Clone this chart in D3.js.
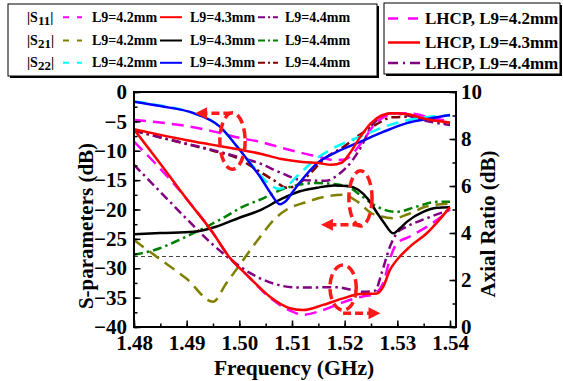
<!DOCTYPE html>
<html><head><meta charset="utf-8">
<script src="https://cdn.jsdelivr.net/npm/d3@7"></script>
<style>
html,body{margin:0;padding:0;background:#fff;}
svg{display:block;}
text{font-family:"Liberation Serif","Times New Roman",serif;font-weight:bold;fill:#000;}
</style></head><body>
<svg id="c" width="563" height="381"></svg>
<script>
// ---------------- DATA ----------------
const xLabel = "Frequency (GHz)";
const yLeftLabel = "S-parameters (dB)";
const yRightLabel = "Axial Ratio (dB)";
const freqTicks = [1.48, 1.49, 1.50, 1.51, 1.52, 1.53, 1.54];
const sTicks = [0, -5, -10, -15, -20, -25, -30, -35, -40];
const arTicks = [0, 2, 4, 6, 8, 10];
const arRefLevel = 3;

// |S11| (dB)
const s11_42 = [[1.48,-4.77],[1.485,-5.2],[1.49,-5.8],[1.495,-6.7],[1.50,-7.8],[1.504,-8.5],[1.508,-9.5],[1.512,-10.4],[1.515,-11.0],[1.518,-11.6],[1.52,-11.5],[1.522,-10.0],[1.524,-7.6],[1.526,-5.2],[1.528,-4.0],[1.53,-3.6],[1.533,-3.7],[1.536,-4.3],[1.54,-5.0]];
const s11_43 = [[1.48,-6.35],[1.485,-7.3],[1.49,-8.2],[1.495,-9.0],[1.50,-9.8],[1.504,-10.5],[1.508,-11.4],[1.512,-11.9],[1.515,-12.1],[1.5175,-12.4],[1.5195,-12.0],[1.521,-10.4],[1.523,-7.6],[1.525,-5.3],[1.527,-4.0],[1.529,-3.6],[1.532,-3.8],[1.535,-4.5],[1.54,-5.2]];
const s11_44 = [[1.48,-6.5],[1.485,-7.7],[1.49,-8.8],[1.495,-9.9],[1.50,-11.1],[1.504,-12.2],[1.508,-13.8],[1.512,-15.0],[1.5165,-15.1],[1.519,-13.9],[1.5215,-11.6],[1.5235,-8.7],[1.525,-5.9],[1.527,-4.2],[1.529,-3.6],[1.532,-4.0],[1.535,-4.8],[1.54,-5.6]];
// |S21| (dB)
const s21_42 = [[1.48,-25.2],[1.485,-28.5],[1.49,-31.8],[1.495,-35.7],[1.4975,-32.6],[1.50,-29.5],[1.502,-27.0],[1.504,-24.6],[1.5065,-21.8],[1.509,-20.0],[1.5125,-18.8],[1.5165,-17.8],[1.5195,-17.5],[1.5225,-18.7],[1.525,-20.6],[1.527,-21.2],[1.5295,-21.5],[1.532,-20.8],[1.5355,-19.5],[1.54,-19.0]];
const s21_43 = [[1.48,-24.2],[1.485,-24.0],[1.4913,-23.8],[1.4957,-22.9],[1.50,-21.4],[1.504,-20.1],[1.508,-18.2],[1.5115,-16.9],[1.5147,-16.3],[1.518,-15.9],[1.5205,-16.0],[1.5225,-16.6],[1.5245,-18.3],[1.5261,-20.5],[1.5275,-22.3],[1.5292,-24.05],[1.5305,-23.2],[1.5318,-22.1],[1.5349,-20.4],[1.5375,-19.7],[1.54,-19.6]];
const s21_44 = [[1.48,-27.7],[1.4849,-26.6],[1.4885,-25.2],[1.4925,-23.5],[1.497,-21.4],[1.5005,-19.6],[1.504,-18.3],[1.5084,-16.5],[1.5147,-15.5],[1.5204,-16.0],[1.5229,-17.5],[1.5261,-19.5],[1.5299,-20.4],[1.5337,-19.5],[1.5375,-18.7],[1.54,-18.7]];
// |S22| (dB)
const s22_42 = [[1.48,-1.6],[1.485,-2.3],[1.4913,-3.6],[1.4963,-5.9],[1.4995,-9.2],[1.502,-12.0],[1.504,-14.2],[1.506,-15.9],[1.5075,-16.5],[1.509,-16.0],[1.511,-14.3],[1.5147,-11.3],[1.5191,-9.0],[1.5229,-7.6],[1.5286,-5.6],[1.5337,-4.5],[1.54,-4.0]];
const s22_43 = [[1.48,-1.65],[1.485,-2.4],[1.4913,-3.6],[1.4963,-5.9],[1.4995,-9.2],[1.502,-12.1],[1.504,-14.5],[1.506,-17.3],[1.5077,-19.1],[1.509,-18.4],[1.5103,-16.8],[1.5125,-14.3],[1.5147,-12.2],[1.5185,-10.2],[1.5229,-8.5],[1.5273,-6.8],[1.5318,-5.3],[1.5362,-4.5],[1.54,-3.9]];
const s22_44 = [[1.48,-6.6],[1.485,-7.75],[1.49,-8.85],[1.495,-10.0],[1.50,-11.4],[1.5027,-12.9],[1.5065,-15.0],[1.509,-16.3],[1.511,-15.8],[1.5135,-13.8],[1.516,-11.5],[1.52,-9.2],[1.523,-7.2],[1.526,-5.5],[1.529,-4.3],[1.533,-4.2],[1.537,-4.8],[1.54,-5.4]];
// Axial ratio (dB), LHCP
const ar_42 = [[1.48,7.89],[1.4843,6.9],[1.49,5.45],[1.495,4.0],[1.498,3.0],[1.5015,2.2],[1.5058,1.25],[1.5096,0.7],[1.5121,0.52],[1.5159,0.72],[1.5197,1.05],[1.5235,1.3],[1.5254,1.38],[1.5273,1.86],[1.5286,2.9],[1.5299,3.55],[1.5324,3.85],[1.5375,4.55],[1.54,5.0]];
const ar_43 = [[1.48,8.41],[1.485,6.95],[1.49,5.45],[1.495,4.0],[1.498,3.0],[1.5015,2.2],[1.5058,1.29],[1.5096,0.8],[1.5121,0.72],[1.5159,0.94],[1.5197,1.22],[1.5229,1.4],[1.5261,1.43],[1.5273,1.71],[1.5286,2.43],[1.5299,2.85],[1.5324,3.42],[1.5356,3.99],[1.54,5.1]];
const ar_44 = [[1.48,6.9],[1.485,5.75],[1.49,4.6],[1.495,3.5],[1.4985,2.85],[1.502,2.3],[1.5058,1.9],[1.5109,1.68],[1.5185,1.69],[1.5235,1.5],[1.5258,1.55],[1.527,2.28],[1.5286,3.42],[1.5299,3.99],[1.5318,4.27],[1.5356,4.63],[1.54,4.98]];

const leftLegendRows = [["S","11"],["S","21"],["S","22"]];
const leftLegendLabels = ["L9=4.2mm","L9=4.3mm","L9=4.4mm"];
const rightLegendLabels = ["LHCP, L9=4.2mm","LHCP, L9=4.3mm","LHCP, L9=4.4mm"];

// annotations in data units: [f, value, rxGHz, ryUnits, axis]
const ellipses = [[1.4987,-8.34,0.0024,4.8,"s"],[1.5230,-18.1,0.0022,4.7,"s"],[1.5197,1.68,0.0025,0.96,"ar"]];
// arrows: [fromF, toF, value, axis]
const arrows = [[1.4985,1.4916,-3.6,"s"],[1.5230,1.5155,-22.6,"s"],[1.5197,1.5268,0.58,"ar"]];

// ---------------- STYLES ----------------
const DASH = "12,7", DASHDOT = "9,4,2.5,4";
const seriesDefs = [
  {d:s22_44, c:"#800000", a:"s", dash:DASHDOT},
  {d:s11_44, c:"#800080", a:"s", dash:DASHDOT},
  {d:s21_44, c:"#008000", a:"s", dash:DASHDOT},
  {d:s21_42, c:"#808000", a:"s", dash:DASH},
  {d:s11_42, c:"#ff00ff", a:"s", dash:DASH},
  {d:s22_42, c:"#00ffff", a:"s", dash:DASH},
  {d:ar_42, c:"#ff00ff", a:"ar", dash:DASH},
  {d:ar_44, c:"#800080", a:"ar", dash:DASHDOT},
  {d:s21_43, c:"#000000", a:"s", dash:null},
  {d:s22_43, c:"#0000ff", a:"s", dash:null},
  {d:s11_43, c:"#ff0000", a:"s", dash:null},
  {d:ar_43, c:"#ff0000", a:"ar", dash:null}
];

// ---------------- CHART ----------------
const svg = d3.select("#c");
const L = 134, R = 456, T = 92, B = 327, XR = 450;
const x = d3.scaleLinear().domain([1.48, 1.54]).range([L, XR]);
const yS = d3.scaleLinear().domain([-40, 0]).range([B, T]);
const yA = d3.scaleLinear().domain([0, 10]).range([B, T]);
const yOf = a => a === "s" ? yS : yA;

// reference dashed line
svg.append("line").attr("x1", L).attr("x2", R).attr("y1", yA(arRefLevel)).attr("y2", yA(arRefLevel))
  .attr("stroke", "#444").attr("stroke-width", 1).attr("stroke-dasharray", "4,3");

const plot = svg.append("g");
seriesDefs.forEach(s => {
  const yy = yOf(s.a);
  const line = d3.line().x(d => x(d[0])).y(d => yy(d[1])).curve(d3.curveMonotoneX);
  plot.append("path").attr("d", line(s.d)).attr("fill", "none").attr("stroke", s.c)
    .attr("stroke-width", 2.5).attr("stroke-dasharray", s.dash).attr("stroke-linejoin", "round");
});

// annotations
const ann = svg.append("g").attr("fill", "none").attr("stroke", "#ff1a1a").attr("stroke-width", 3.5);
ellipses.forEach(e => {
  const yy = yOf(e[4]);
  ann.append("ellipse").attr("cx", x(e[0])).attr("cy", yy(e[1]))
    .attr("rx", x(e[0] + e[2]) - x(e[0])).attr("ry", Math.abs(yy(e[1] + e[3]) - yy(e[1])))
    .attr("stroke-dasharray", "10,5");
});
arrows.forEach(a => {
  const yy = yOf(a[3]);
  const x0 = x(a[0]), x1 = x(a[1]), y0 = yy(a[2]);
  const dir = Math.sign(x1 - x0);
  ann.append("line").attr("x1", x0).attr("x2", x1 - dir * 9).attr("y1", y0).attr("y2", y0)
    .attr("stroke-dasharray", "8,4");
  svg.append("path").attr("d", `M${x1},${y0}L${x1 - dir * 12},${y0 - 6}L${x1 - dir * 12},${y0 + 6}Z`)
    .attr("fill", "#ff1a1a");
});

// frame
svg.append("rect").attr("x", L).attr("y", T).attr("width", R - L).attr("height", B - T)
  .attr("fill", "none").attr("stroke", "#000").attr("stroke-width", 2);

// axes
function styleAxis(g) {
  g.select(".domain").remove();
  g.selectAll(".tick line").attr("stroke", "#000").attr("stroke-width", 1.5);
  g.selectAll("text").attr("font-size", 21).attr("font-family", '"Liberation Serif",serif').attr("font-weight", "bold");
}
const minorX = d3.range(0, 13).map(i => 1.48 + i * 0.005);
svg.append("g").attr("transform", `translate(0,${B})`)
  .call(d3.axisBottom(x).tickValues(minorX).tickSize(-3.5).tickFormat(""))
  .call(styleAxis);
svg.append("g").attr("transform", `translate(0,${B})`)
  .call(d3.axisBottom(x).tickValues(freqTicks).tickSize(-6.5).tickPadding(8).tickFormat(d3.format(".2f")))
  .call(styleAxis);

const minorS = d3.range(0, 17).map(i => -i * 2.5);
svg.append("g").attr("transform", `translate(${L},0)`)
  .call(d3.axisLeft(yS).tickValues(minorS).tickSize(-3.5).tickFormat(""))
  .call(styleAxis);
svg.append("g").attr("transform", `translate(${L},0)`)
  .call(d3.axisLeft(yS).tickValues(sTicks).tickSize(-6.5).tickPadding(7).tickFormat(d3.format("d")))
  .call(styleAxis);

const minorA = d3.range(0, 11);
svg.append("g").attr("transform", `translate(${R},0)`)
  .call(d3.axisRight(yA).tickValues(minorA).tickSize(-3.5).tickFormat(""))
  .call(styleAxis);
svg.append("g").attr("transform", `translate(${R},0)`)
  .call(d3.axisRight(yA).tickValues(arTicks).tickSize(-6.5).tickPadding(5).tickFormat(d3.format("d")))
  .call(styleAxis);

// axis titles
svg.append("text").attr("x", (L + R) / 2 - 1).attr("y", 374.5).attr("text-anchor", "middle")
  .attr("font-size", 21.5).text(xLabel);
svg.append("text").attr("transform", `translate(93,226) rotate(-90)`).attr("text-anchor", "middle")
  .attr("font-size", 21).text(yLeftLabel);
svg.append("text").attr("transform", `translate(495,224) rotate(-90)`).attr("text-anchor", "middle")
  .attr("font-size", 21).text(yRightLabel);

// ---------------- LEGENDS ----------------
function legendBox(x0, y0, w, h) {
  svg.append("rect").attr("x", x0 + 2).attr("y", y0 + 2).attr("width", w).attr("height", h).attr("fill", "#000");
  svg.append("rect").attr("x", x0).attr("y", y0).attr("width", w).attr("height", h)
    .attr("fill", "#fff").attr("stroke", "#000").attr("stroke-width", 1);
}
legendBox(8, 4, 369, 72);
legendBox(384, 3, 176, 71);

const leftRowBase = [21.7, 45, 67.3];
const leftSampleX = [[63, 82], [160, 182], [258, 278]];
const leftTextX = [92, 190, 285];
const legendGroups = [[s11_42, s11_43, s11_44], [s21_42, s21_43, s21_44], [s22_42, s22_43, s22_44]];
leftLegendRows.forEach((row, i) => {
  const t = svg.append("text").attr("x", 27).attr("y", leftRowBase[i]).attr("font-size", 14);
  t.append("tspan").text("|" + row[0]);
  t.append("tspan").attr("dy", 3).attr("font-size", 13).text(row[1]);
  t.append("tspan").attr("dy", -3).text("|");
  legendGroups[i].forEach((arr, j) => {
    const def = seriesDefs.find(s => s.d === arr);
    const yy = leftRowBase[i] - 4.5;
    svg.append("line").attr("x1", leftSampleX[j][0]).attr("x2", leftSampleX[j][1]).attr("y1", yy).attr("y2", yy)
      .attr("stroke", def.c).attr("stroke-width", 2)
      .attr("stroke-dasharray", def.dash === DASH ? "6,8" : def.dash === DASHDOT ? "7,3,2,3" : null);
    svg.append("text").attr("x", leftTextX[j]).attr("y", leftRowBase[i]).attr("font-size", 14)
      .text(leftLegendLabels[j]);
  });
});

const rightRowBase = [24, 48, 68.5];
const arGroup = [ar_42, ar_43, ar_44];
rightLegendLabels.forEach((lab, i) => {
  const def = seriesDefs.find(s => s.d === arGroup[i]);
  const yy = rightRowBase[i] - 5.5;
  svg.append("line").attr("x1", 388).attr("x2", 420).attr("y1", yy).attr("y2", yy)
    .attr("stroke", def.c).attr("stroke-width", 2.5)
    .attr("stroke-dasharray", def.dash === DASH ? "10,10" : def.dash === DASHDOT ? "10,5,2,5" : null);
  svg.append("text").attr("x", 425).attr("y", rightRowBase[i]).attr("font-size", 17).text(lab);
});
</script>
</body></html>
